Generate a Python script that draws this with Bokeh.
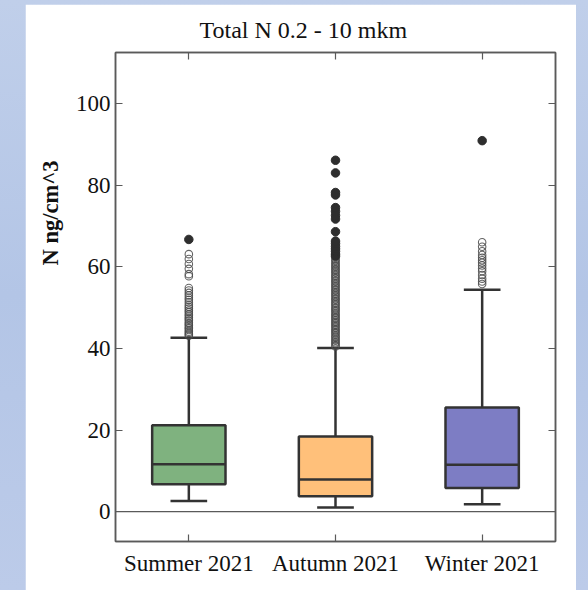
from bokeh.plotting import figure
from bokeh.models import (ColumnDataSource, FactorRange, Range1d, FixedTicker,
                          LinearAxis, CategoricalAxis, Span, Title)
from bokeh.transform import dodge
from bokeh.layouts import column
from bokeh.embed import file_html
from bokeh.resources import INLINE

# Seasons and box statistics (ng/cm^3)
seasons = ["Summer 2021", "Autumn 2021", "Winter 2021"]
colors = ["#7fb27f", "#ffc07a", "#7d7dc4"]
lower_whisker = [2.6, 1.0, 1.8]
q1 = [6.7, 3.8, 5.8]
median = [11.6, 7.9, 11.5]
q3 = [21.2, 18.4, 25.5]
upper_whisker = [42.6, 40.1, 54.4]

# Outliers (open: beyond 1.5 IQR, filled: beyond 3 IQR)
summer_out = [43.1, 43.4, 43.8, 44.1, 44.5, 44.9, 45.2, 45.6, 46.0, 46.3, 46.8,
              47.2, 47.5, 48.0, 48.4, 48.9, 49.3, 49.8, 50.2, 50.7, 51.3, 51.9,
              52.4, 53.0, 53.6, 54.2, 54.8, 57.7, 58.2, 59.5, 60.7, 61.9, 63.1]
summer_far = [66.7]
autumn_out = [40.5, 40.8, 41.2, 41.5, 41.9, 42.2, 42.6, 42.9, 43.3, 43.7, 44.0,
              44.4, 44.7, 45.1, 45.5, 45.8, 46.2, 46.5, 46.9, 47.3, 47.6, 48.0,
              48.3, 48.7, 49.1, 49.4, 49.8, 50.1, 50.5, 50.9, 51.2, 51.6, 52.0,
              52.3, 52.7, 53.1, 53.4, 53.8, 54.2, 54.5, 54.9, 55.3, 55.6, 56.0,
              56.4, 56.7, 57.1, 57.5, 57.8, 58.2, 58.6, 59.0, 59.3, 59.7, 60.1,
              60.4, 60.8, 61.2, 61.6, 61.9]
autumn_far = [62.6, 63.1, 63.8, 64.4, 65.0, 65.7, 66.3, 68.6, 71.7, 72.6, 73.6,
              74.5, 77.6, 78.2, 83.0, 86.1]
winter_out = [55.8, 56.4, 57.1, 58.0, 58.9, 59.6, 60.3, 61.0, 61.6, 62.2, 62.9,
              63.8, 64.9, 66.0]
winter_far = [90.9]

y_ticks = [0, 20, 40, 60, 80, 100]

FONT = "Liberation Serif"
AXIS_GRAY = "#5a5a5a"
BOX_EDGE = "#333333"

box_src = ColumnDataSource(dict(season=seasons, color=colors, lo=lower_whisker,
                                q1=q1, med=median, q3=q3, hi=upper_whisker))

out_src = ColumnDataSource(dict(
    season=[seasons[0]] * len(summer_out) + [seasons[1]] * len(autumn_out)
    + [seasons[2]] * len(winter_out),
    y=summer_out + autumn_out + winter_out))
far_src = ColumnDataSource(dict(
    season=[seasons[0]] * len(summer_far) + [seasons[1]] * len(autumn_far)
    + [seasons[2]] * len(winter_far),
    y=summer_far + autumn_far + winter_far))

p = figure(width=551, height=586,
           x_range=FactorRange(*seasons, range_padding=0),
           y_range=Range1d(-7.3, 112.5),
           output_backend="svg", toolbar_location=None,
           min_border_left=90, min_border_right=21,
           min_border_top=48, min_border_bottom=49)
# title centred over the whole panel rather than the frame
p.title = Title(text="Total N 0.2 - 10 mkm", align="left", offset=84,
                standoff=20,
                text_font=FONT, text_font_size="24px", text_font_style="normal",
                text_color="#111111")
# y axis label set a little above the frame centre
p.add_layout(Title(text="N ng/cm^3", align="right", offset=108, standoff=20,
                   text_font=FONT, text_font_size="22.5px",
                   text_font_style="bold", text_color="#111111"), "left")

p.background_fill_color = "white"
p.border_fill_color = "white"
p.outline_line_color = AXIS_GRAY
p.outline_line_width = 1.5
p.xgrid.visible = False
p.ygrid.visible = False

# zero reference line
p.add_layout(Span(location=0, dimension="width", line_color=AXIS_GRAY,
                  line_width=1.2))

# whiskers
p.segment(x0="season", y0="q3", x1="season", y1="hi", source=box_src,
          line_color=BOX_EDGE, line_width=2.5)
p.segment(x0="season", y0="q1", x1="season", y1="lo", source=box_src,
          line_color=BOX_EDGE, line_width=2.5)
for col in ("hi", "lo"):
    p.segment(x0=dodge("season", -0.125, range=p.x_range), y0=col,
              x1=dodge("season", 0.125, range=p.x_range), y1=col,
              source=box_src, line_color=BOX_EDGE, line_width=2.5)

# boxes and medians
p.vbar(x="season", bottom="q1", top="q3", width=0.5, source=box_src,
       fill_color="color", line_color=BOX_EDGE, line_width=2.5)
p.segment(x0=dodge("season", -0.25, range=p.x_range), y0="med",
          x1=dodge("season", 0.25, range=p.x_range), y1="med",
          source=box_src, line_color=BOX_EDGE, line_width=2.5)

# outliers
p.scatter(x="season", y="y", source=out_src, marker="circle", size=7.5,
          fill_color=None, line_color="#4a4a4a", line_width=1.1, line_alpha=0.85)
p.scatter(x="season", y="y", source=far_src, marker="circle", size=8.5,
          fill_color="#2e2e2e", line_color="#2e2e2e")

# axes: labelled left/bottom, mirrored inward ticks on right/top
def style_axis(ax, labels=True):
    ax.axis_line_color = AXIS_GRAY
    ax.axis_line_width = 1.5
    ax.major_tick_line_color = AXIS_GRAY
    ax.major_tick_line_width = 1.2
    ax.major_tick_in = 7
    ax.major_tick_out = 0
    ax.minor_tick_line_color = None
    ax.major_label_text_font = FONT
    ax.major_label_text_color = "#111111"
    if labels:
        ax.major_label_text_font_size = "23px"
    else:
        ax.major_label_text_color = None
        ax.major_label_text_font_size = "1px"
        ax.major_label_standoff = 0

yax = p.yaxis[0]
yax.ticker = FixedTicker(ticks=y_ticks)
yax.major_label_standoff = 5
style_axis(yax)
xax = p.xaxis[0]
xax.major_label_standoff = 9
style_axis(xax)

rax = LinearAxis(ticker=FixedTicker(ticks=y_ticks))
style_axis(rax, labels=False)
p.add_layout(rax, "right")
tax = CategoricalAxis()
style_axis(tax, labels=False)
p.add_layout(tax, "above")

p.margin = (4, 12, 0, 25)
page = column(p, styles={"background": "linear-gradient(180deg, #c0cfea 0%, #b3c5e6 50%, #bccbe9 100%)"})

open("out.html", "w").write(file_html(page, INLINE))
